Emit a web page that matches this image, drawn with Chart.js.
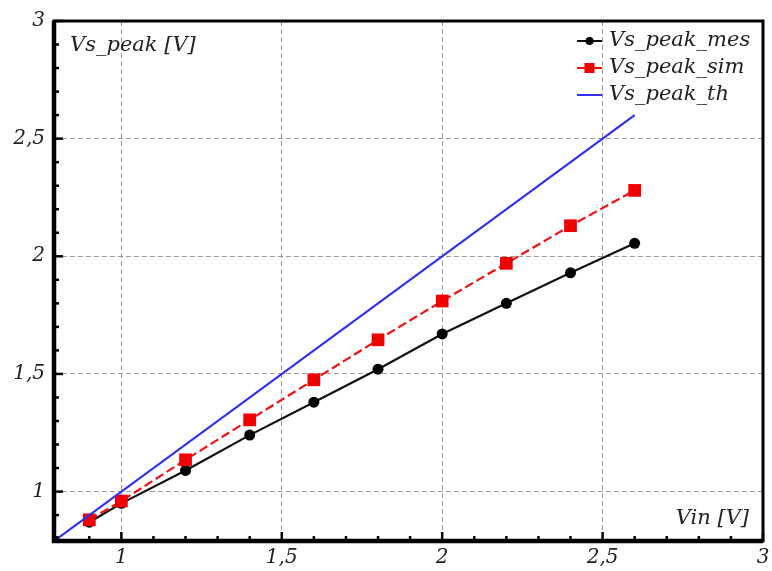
<!DOCTYPE html>
<html>
<head>
<meta charset="utf-8">
<script src="https://cdn.jsdelivr.net/npm/chart.js@4/dist/chart.umd.min.js"></script>
<style>
  html, body { margin: 0; padding: 0; background: #fff; }
  #wrap { width: 772px; height: 571px; }
</style>
</head>
<body>
<div id="wrap"><canvas id="chart" width="772" height="571"></canvas></div>
<script>
const vin = [0.9, 1.0, 1.2, 1.4, 1.6, 1.8, 2.0, 2.2, 2.4, 2.6];
const vsMes = [0.87, 0.95, 1.09, 1.24, 1.38, 1.52, 1.67, 1.80, 1.93, 2.055];
const vsSim = [0.88, 0.96, 1.135, 1.305, 1.475, 1.645, 1.81, 1.97, 2.13, 2.28];
const vinTh = [0.79, 2.6];
const vsTh = [0.79, 2.6];

const labels = ["Vs_peak_mes", "Vs_peak_sim", "Vs_peak_th"];
const majorTicks = [1, 1.5, 2, 2.5, 3];
const axisMin = 0.79;
const axisMax = 3;

const serif = "'DejaVu Serif', serif";
const tickFont = { family: serif, style: "italic", size: 20 };

const toPoints = (xs, ys) => xs.map((x, i) => ({ x, y: ys[i] }));
const fmt = (v) => String(v).replace(".", ",");

// frame, minor ticks, x tick labels, axis titles and legend
const decorations = {
  id: "decorations",
  afterDraw(chart) {
    const { ctx, chartArea: a, scales } = chart;
    const xs = scales.x, ys = scales.y;
    const right = Math.min(a.right, chart.width - 2);
    ctx.save();

    // inward ticks on the left and bottom axes
    ctx.strokeStyle = "#000";
    ctx.lineWidth = 2.5;
    for (let i = 8; i <= 30; i++) {
      const v = i / 10;
      const len = i % 5 === 0 ? 9 : 5;
      const px = xs.getPixelForValue(v);
      ctx.beginPath();
      ctx.moveTo(px, a.bottom);
      ctx.lineTo(px, a.bottom - len);
      ctx.stroke();
      const py = ys.getPixelForValue(v);
      ctx.beginPath();
      ctx.moveTo(a.left, py);
      ctx.lineTo(a.left + len, py);
      ctx.stroke();
    }

    // frame
    ctx.setLineDash([]);
    ctx.lineWidth = 3;
    ctx.strokeRect(a.left, a.top, right - a.left, a.bottom - a.top);
    ctx.lineWidth = 4.5;
    ctx.beginPath();
    ctx.moveTo(a.left, a.top);
    ctx.lineTo(a.left, a.bottom);
    ctx.lineTo(right, a.bottom);
    ctx.stroke();

    // x tick labels (last one runs off the canvas edge as in the original)
    ctx.fillStyle = "#222";
    ctx.font = "italic 20px " + serif;
    ctx.textAlign = "center";
    ctx.textBaseline = "middle";
    majorTicks.forEach((v) => {
      ctx.fillText(fmt(v), xs.getPixelForValue(v), a.bottom + 17);
    });

    // axis titles
    ctx.font = "italic 21px " + serif;
    ctx.textAlign = "left";
    ctx.fillText("Vs_peak [V]", a.left + 16, a.top + 25);
    ctx.textAlign = "right";
    ctx.fillText("Vin [V]", right - 14, a.bottom - 22);

    // legend
    const ds = chart.data.datasets;
    ds.forEach((d, i) => {
      const y = a.top + 20 + i * 27;
      const x0 = right - 186, x1 = x0 + 25;
      ctx.strokeStyle = d.borderColor;
      ctx.lineWidth = 2;
      ctx.setLineDash([]);
      ctx.beginPath();
      ctx.moveTo(x0, y);
      ctx.lineTo(x1, y);
      ctx.stroke();
      const cx = (x0 + x1) / 2;
      ctx.fillStyle = d.pointBackgroundColor;
      if (d.pointStyle === "circle") {
        ctx.beginPath();
        ctx.arc(cx, y, 4, 0, Math.PI * 2);
        ctx.fill();
      } else if (d.pointStyle === "rect") {
        ctx.fillRect(cx - 5, y - 5, 10, 10);
      }
      ctx.fillStyle = "#222";
      ctx.textAlign = "left";
      ctx.font = "italic 21px " + serif;
      ctx.fillText(d.label, x1 + 7, y);
    });
    ctx.restore();
  }
};

new Chart(document.getElementById("chart"), {
  type: "line",
  data: {
    datasets: [
      {
        label: labels[0],
        data: toPoints(vin, vsMes),
        borderColor: "#111",
        borderWidth: 2.2,
        pointStyle: "circle",
        pointRadius: 5.5,
        pointBackgroundColor: "#000",
        pointBorderWidth: 0,
        order: 3
      },
      {
        label: labels[1],
        data: toPoints(vin, vsSim),
        borderColor: "#f01010",
        borderWidth: 2.2,
        borderDash: [9, 4],
        pointStyle: "rect",
        pointRadius: 9,
        pointBackgroundColor: "#f00000",
        pointBorderWidth: 0,
        order: 2
      },
      {
        label: labels[2],
        data: toPoints(vinTh, vsTh),
        borderColor: "#3030f0",
        borderWidth: 2.2,
        pointRadius: 0,
        pointStyle: false,
        pointBackgroundColor: "#3030f0",
        order: 1
      }
    ]
  },
  options: {
    responsive: false,
    animation: false,
    layout: { padding: { top: 15, right: -5, left: 0, bottom: 0 } },
    plugins: { legend: { display: false }, tooltip: { enabled: false } },
    scales: {
      x: {
        type: "linear",
        min: axisMin,
        max: axisMax,
        afterBuildTicks: (s) => { s.ticks = majorTicks.map((v) => ({ value: v })); },
        afterFit: (s) => { s.height = 30; },
        grid: { color: "#9a9a9a", lineWidth: 1, drawTicks: false },
        border: { display: false, dash: [5, 3] },
        ticks: { display: false }
      },
      y: {
        type: "linear",
        min: axisMin,
        max: axisMax,
        afterBuildTicks: (s) => { s.ticks = majorTicks.map((v) => ({ value: v })); },
        afterFit: (s) => { s.width = 54; },
        grid: { color: "#9a9a9a", lineWidth: 1, drawTicks: false },
        border: { display: false, dash: [5, 3] },
        ticks: { color: "#222", font: tickFont, padding: 9, callback: (v) => fmt(v) }
      }
    }
  },
  plugins: [decorations]
});
</script>
</body>
</html>
